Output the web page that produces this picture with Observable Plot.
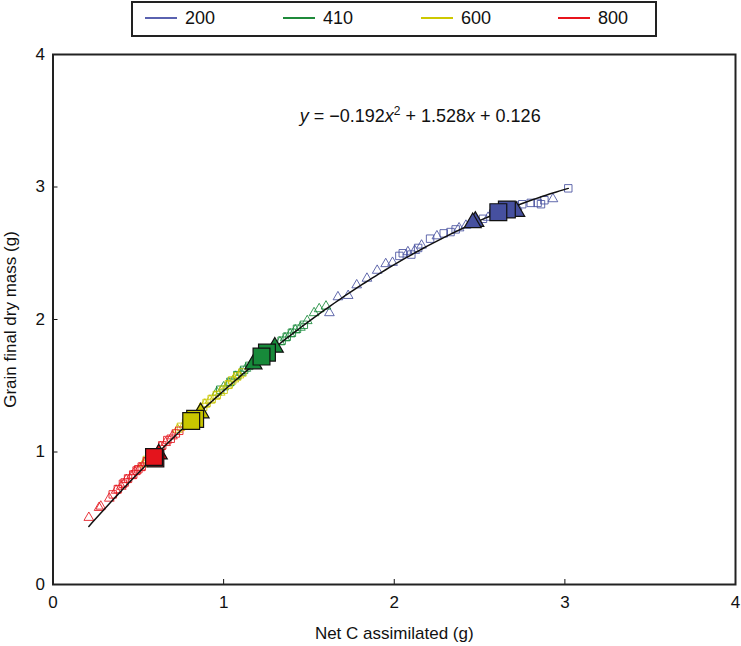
<!DOCTYPE html>
<html>
<head>
<meta charset="utf-8">
<script src="https://cdn.jsdelivr.net/npm/d3@7"></script>
<script src="https://cdn.jsdelivr.net/npm/@observablehq/plot@0.6"></script>
<style>
  html, body { margin: 0; padding: 0; background: #fff; }
  body { width: 741px; height: 646px; overflow: hidden; font-family: "Liberation Sans", Arial, sans-serif; }
  #legend { position: relative; height: 40px; }
  #legend .box { position: absolute; left: 131px; top: 1px; width: 522px; height: 32px; border: 2px solid #222; }
  #legend .item { position: absolute; top: 0; height: 36px; display: flex; align-items: center; font-size: 18px; color: #111; }
  #legend .swatch { width: 32px; height: 2px; margin-right: 8px; }
</style>
</head>
<body>
<div id="legend"></div>
<div id="chart"></div>
<script>
// ---- data ----
const groups = ["200", "410", "600", "800"];
const groupColors = ["#46509f", "#178a3a", "#c9c600", "#e4141c"];
const legendColors = ["#5a62b0", "#1f8a3a", "#cdc800", "#e8141c"];
const xTicks = [0, 1, 2, 3, 4];
const yTicks = [0, 1, 2, 3, 4];
const fitCoef = [0.126, 1.528, -0.192];
const fitRange = [0.21, 3.02];

// hollow individual points: [x, y]
const tri200 = [[1.62,2.05],[1.67,2.17],[1.73,2.18],[1.78,2.26],[1.84,2.31],[1.90,2.37],[1.95,2.42],[1.99,2.43],[2.08,2.51],[2.12,2.52],[2.16,2.56],[2.25,2.63],[2.38,2.69],[2.42,2.71],[2.55,2.77],[2.72,2.85],[2.93,2.91]];
const sq200 = [[2.03,2.48],[2.05,2.50],[2.10,2.49],[2.14,2.54],[2.21,2.61],[2.29,2.65],[2.33,2.66],[2.36,2.68],[2.52,2.76],[2.58,2.80],[2.75,2.87],[2.80,2.88],[2.84,2.88],[2.86,2.87],[2.88,2.90],[3.02,2.99]];
const tri410 = [[0.96,1.45],[1.00,1.49],[1.03,1.52],[1.07,1.57],[1.10,1.60],[1.13,1.63],[1.16,1.66],[1.33,1.83],[1.36,1.86],[1.39,1.89],[1.42,1.92],[1.45,1.94],[1.49,1.99],[1.53,2.05],[1.56,2.08],[1.60,2.10]];
const sq410 = [[0.98,1.47],[1.04,1.53],[1.08,1.58],[1.12,1.62],[1.15,1.65],[1.34,1.84],[1.37,1.87],[1.40,1.90],[1.43,1.93],[1.47,1.96]];
const tri600 = [[0.53,0.91],[0.73,1.17],[0.77,1.21],[0.86,1.32],[0.89,1.36],[0.92,1.39],[0.95,1.42],[0.98,1.45],[1.02,1.50],[1.06,1.55],[1.09,1.58]];
const sq600 = [[0.55,0.94],[0.75,1.19],[0.78,1.22],[0.88,1.34],[0.90,1.37],[0.93,1.40],[0.96,1.43],[1.00,1.47],[1.03,1.51],[1.05,1.54],[1.08,1.57],[1.11,1.60]];
const tri800 = [[0.21,0.505],[0.27,0.58],[0.28,0.59],[0.33,0.65],[0.37,0.71],[0.40,0.74],[0.43,0.79],[0.46,0.82],[0.48,0.85],[0.51,0.88],[0.54,0.92],[0.63,1.04],[0.66,1.07],[0.70,1.12]];
const sq800 = [[0.35,0.68],[0.38,0.72],[0.41,0.76],[0.42,0.77],[0.44,0.80],[0.47,0.83],[0.49,0.86],[0.50,0.87],[0.52,0.89],[0.55,0.93],[0.64,1.05],[0.67,1.09],[0.69,1.10],[0.72,1.14],[0.74,1.16]];

// group means (drawn back to front): [group, shape, x, y]
const means = [
  ["200","triangle",2.715,2.815],["200","square",2.66,2.83],["200","square",2.61,2.81],
  ["200","triangle",2.475,2.74],["200","triangle",2.46,2.73],
  ["410","triangle",1.30,1.79],["410","triangle",1.175,1.665],["410","square",1.254,1.75],["410","square",1.222,1.72],
  ["600","triangle",0.865,1.295],["600","square",0.833,1.25],["600","square",0.81,1.234],
  ["800","triangle",0.62,0.985],["800","square",0.60,0.952],["800","square",0.592,0.962]
];

// ---- legend ----
const legend = document.getElementById("legend");
legend.innerHTML = '<div class="box"></div>';
const legendX = [145, 283, 421, 558];
groups.forEach((g, i) => {
  const it = document.createElement("div");
  it.className = "item";
  it.style.left = legendX[i] + "px";
  it.innerHTML = `<span class="swatch" style="background:${legendColors[i]}"></span><span>${g}</span>`;
  legend.appendChild(it);
});

// ---- chart ----
const colorOf = g => groupColors[groups.indexOf(g)];
const fitData = d3.range(fitRange[0], fitRange[1] + 1e-9, 0.02).concat([fitRange[1]])
  .map(x => [x, fitCoef[0] + fitCoef[1] * x + fitCoef[2] * x * x]);

const hollow = [
  [tri200, "triangle", "200"], [sq200, "square", "200"],
  [tri410, "triangle", "410"], [sq410, "square", "410"],
  [tri600, "triangle", "600"], [sq600, "square", "600"],
  [tri800, "triangle", "800"], [sq800, "square", "800"]
];

const plot = Plot.plot({
  width: 741,
  height: 606,
  marginLeft: 52.5,
  marginRight: 6,
  marginTop: 14,
  marginBottom: 62,
  style: { fontFamily: '"Liberation Sans", Arial, sans-serif', fontSize: "17px", color: "#111", background: "#fff" },
  x: { domain: [0, 4] },
  y: { domain: [0, 4] },
  marks: [
    ...hollow.map(([data, sym, g]) => Plot.dot(data, {
      x: d => d[0], y: d => d[1], symbol: sym, r: sym === "square" ? 4.2 : 3.6,
      stroke: colorOf(g), strokeOpacity: 0.85, fill: "none", strokeWidth: 1
    })),
    Plot.line(fitData, { x: d => d[0], y: d => d[1], stroke: "#111", strokeWidth: 1.5 }),
    ...means.map(m => Plot.dot([m], {
      x: d => d[2], y: d => d[3], symbol: m[1], r: m[1] === "square" ? 9.5 : 6.3,
      fill: colorOf(m[0]), stroke: "#111", strokeWidth: 1.2
    })),
    Plot.axisX({ ticks: xTicks, tickFormat: "d", tickSize: -5, tickPadding: 16, label: "Net C assimilated (g)", labelArrow: "none", labelAnchor: "center", labelOffset: 54 }),
    Plot.axisY({ ticks: yTicks, tickFormat: "d", tickSize: -5, tickPadding: 13, label: "Grain final dry mass (g)", labelArrow: "none", labelAnchor: "center", labelOffset: 49 }),
    Plot.frame({ stroke: "#222", strokeWidth: 2 })
  ]
});
document.getElementById("chart").appendChild(plot);

// equation annotation
const eqPos = [2.155, 3.49];
const svg = d3.select(plot);
const t = svg.append("text")
  .attr("x", plot.scale("x").apply(eqPos[0]))
  .attr("y", plot.scale("y").apply(eqPos[1]))
  .attr("text-anchor", "middle")
  .attr("font-size", 18)
  .attr("fill", "#111");
t.append("tspan").attr("font-style", "italic").text("y");
t.append("tspan").text(" = \u22120.192");
t.append("tspan").attr("font-style", "italic").text("x");
t.append("tspan").attr("dy", -7).attr("font-size", 12).text("2");
t.append("tspan").attr("dy", 7).text(" + 1.528");
t.append("tspan").attr("font-style", "italic").text("x");
t.append("tspan").text(" + 0.126");
</script>
</body>
</html>
